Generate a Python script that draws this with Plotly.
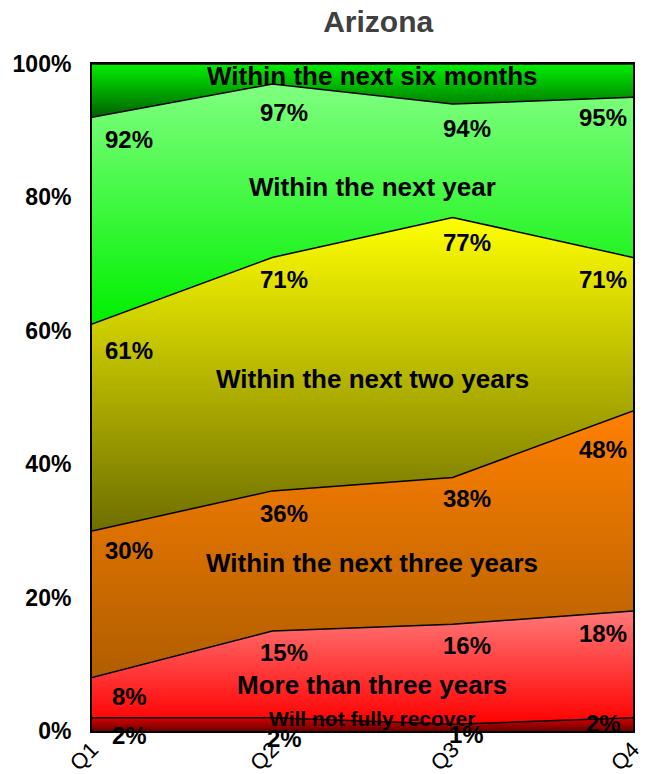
import numpy as np
import plotly.graph_objects as go

quarters = ["Q1", "Q2", "Q3", "Q4"]

# share of respondents per answer (percent), bottom to top of the stack
series_names = [
    "Will not fully recover",
    "More than three years",
    "Within the next three years",
    "Within the next two years",
    "Within the next year",
    "Within the next six months",
]
will_not_recover = [2, 2, 1, 2]
more_than_three = [6, 13, 15, 16]
next_three_years = [22, 21, 22, 30]
next_two_years = [31, 35, 39, 23]
next_year = [31, 26, 17, 24]
next_six_months = [8, 3, 6, 5]

y_ticks = [0, 20, 40, 60, 80, 100]
y_tick_labels = ["0%", "20%", "40%", "60%", "80%", "100%"]

# styling
grad_colors = [
    ("#6a0000", "#d80000"),
    ("#ff0000", "#ff7878"),
    ("#b05e00", "#ff8000"),
    ("#6e6e00", "#ffff00"),
    ("#00f000", "#80ff80"),
    ("#006000", "#00f000"),
]
name_label_y = [1.8, 6.9, 25.2, 52.8, 81.6, 98.2]
name_label_size = [21, 26, 26, 26, 26, 26]
label_xshift = [37, 12, 14, -30]
# vertical pixel offset of value labels below each boundary line
label_dy = [
    [18, 21, 10, 6],
    [19, 22, 21, 23],
    [20, 23, 21, 39],
    [26, 22, 25, 22],
    [22, 28, 24, 20],
]

values = [will_not_recover, more_than_three, next_three_years,
          next_two_years, next_year, next_six_months]
cum = np.cumsum(np.array(values, dtype=float), axis=0)

fig = go.Figure()
base = np.zeros(len(quarters))
# baseline trace
fig.add_trace(go.Scatter(x=quarters, y=base, mode="lines",
                         line=dict(width=0, color="black"),
                         showlegend=False, hoverinfo="skip"))
lower = base
for i, name in enumerate(series_names):
    upper = cum[i]
    c0, c1 = grad_colors[i]
    fig.add_trace(go.Scatter(
        x=quarters, y=upper, mode="lines", name=name,
        fill="tonexty",
        fillgradient=dict(type="vertical", start=float(lower.min()),
                          stop=float(upper.max()),
                          colorscale=[[0, c0], [1, c1]]),
        line=dict(color="black", width=1.5),
        showlegend=False,
    ))
    lower = upper

annotations = []
# value labels (cumulative) for all boundaries except the 100% top
for i in range(len(series_names) - 1):
    for j, q in enumerate(quarters):
        v = cum[i][j]
        annotations.append(dict(
            x=q, y=v, xref="x", yref="y", text=f"{int(round(v))}%",
            showarrow=False, xshift=label_xshift[j], yshift=-label_dy[i][j],
            font=dict(family="Liberation Sans, Arial", size=24, color="black",
                      weight="bold"),
            xanchor="center", yanchor="middle",
        ))
# series name labels
for i, name in enumerate(series_names):
    annotations.append(dict(
        x=0.5176, y=name_label_y[i], xref="paper", yref="y", text=name,
        showarrow=False,
        font=dict(family="Liberation Sans, Arial", size=name_label_size[i],
                  color="black", weight="bold"),
        xanchor="center", yanchor="middle",
    ))

fig.update_layout(
    width=647, height=774,
    margin=dict(l=84, r=22, t=56, b=51, autoexpand=False),
    paper_bgcolor="white", plot_bgcolor="white",
    annotations=annotations,
    showlegend=False,
    title=dict(text="<b>Arizona</b>", xref="paper", x=0.529, xanchor="center",
               yref="container", y=0.982, yanchor="middle",
               font=dict(family="Liberation Sans, Arial", size=30,
                         color="#404040")),
)
fig.update_xaxes(
    type="category", range=[0, 3], showgrid=False, zeroline=False,
    showline=True, linecolor="black", linewidth=2, mirror=True,
    ticks="", tickangle=-45, ticklabelstandoff=-5, automargin=False,
    tickfont=dict(family="Liberation Sans, Arial", size=22, color="black"),
)
fig.update_yaxes(
    range=[0, 100], tickvals=y_ticks, ticktext=y_tick_labels,
    showgrid=False, zeroline=False, automargin=False,
    showline=True, linecolor="black", linewidth=2, mirror=True,
    ticks="", ticklabelstandoff=14,
    tickfont=dict(family="Liberation Sans, Arial", size=23, color="black",
                  weight="bold"),
)

fig.write_html("out.html")
